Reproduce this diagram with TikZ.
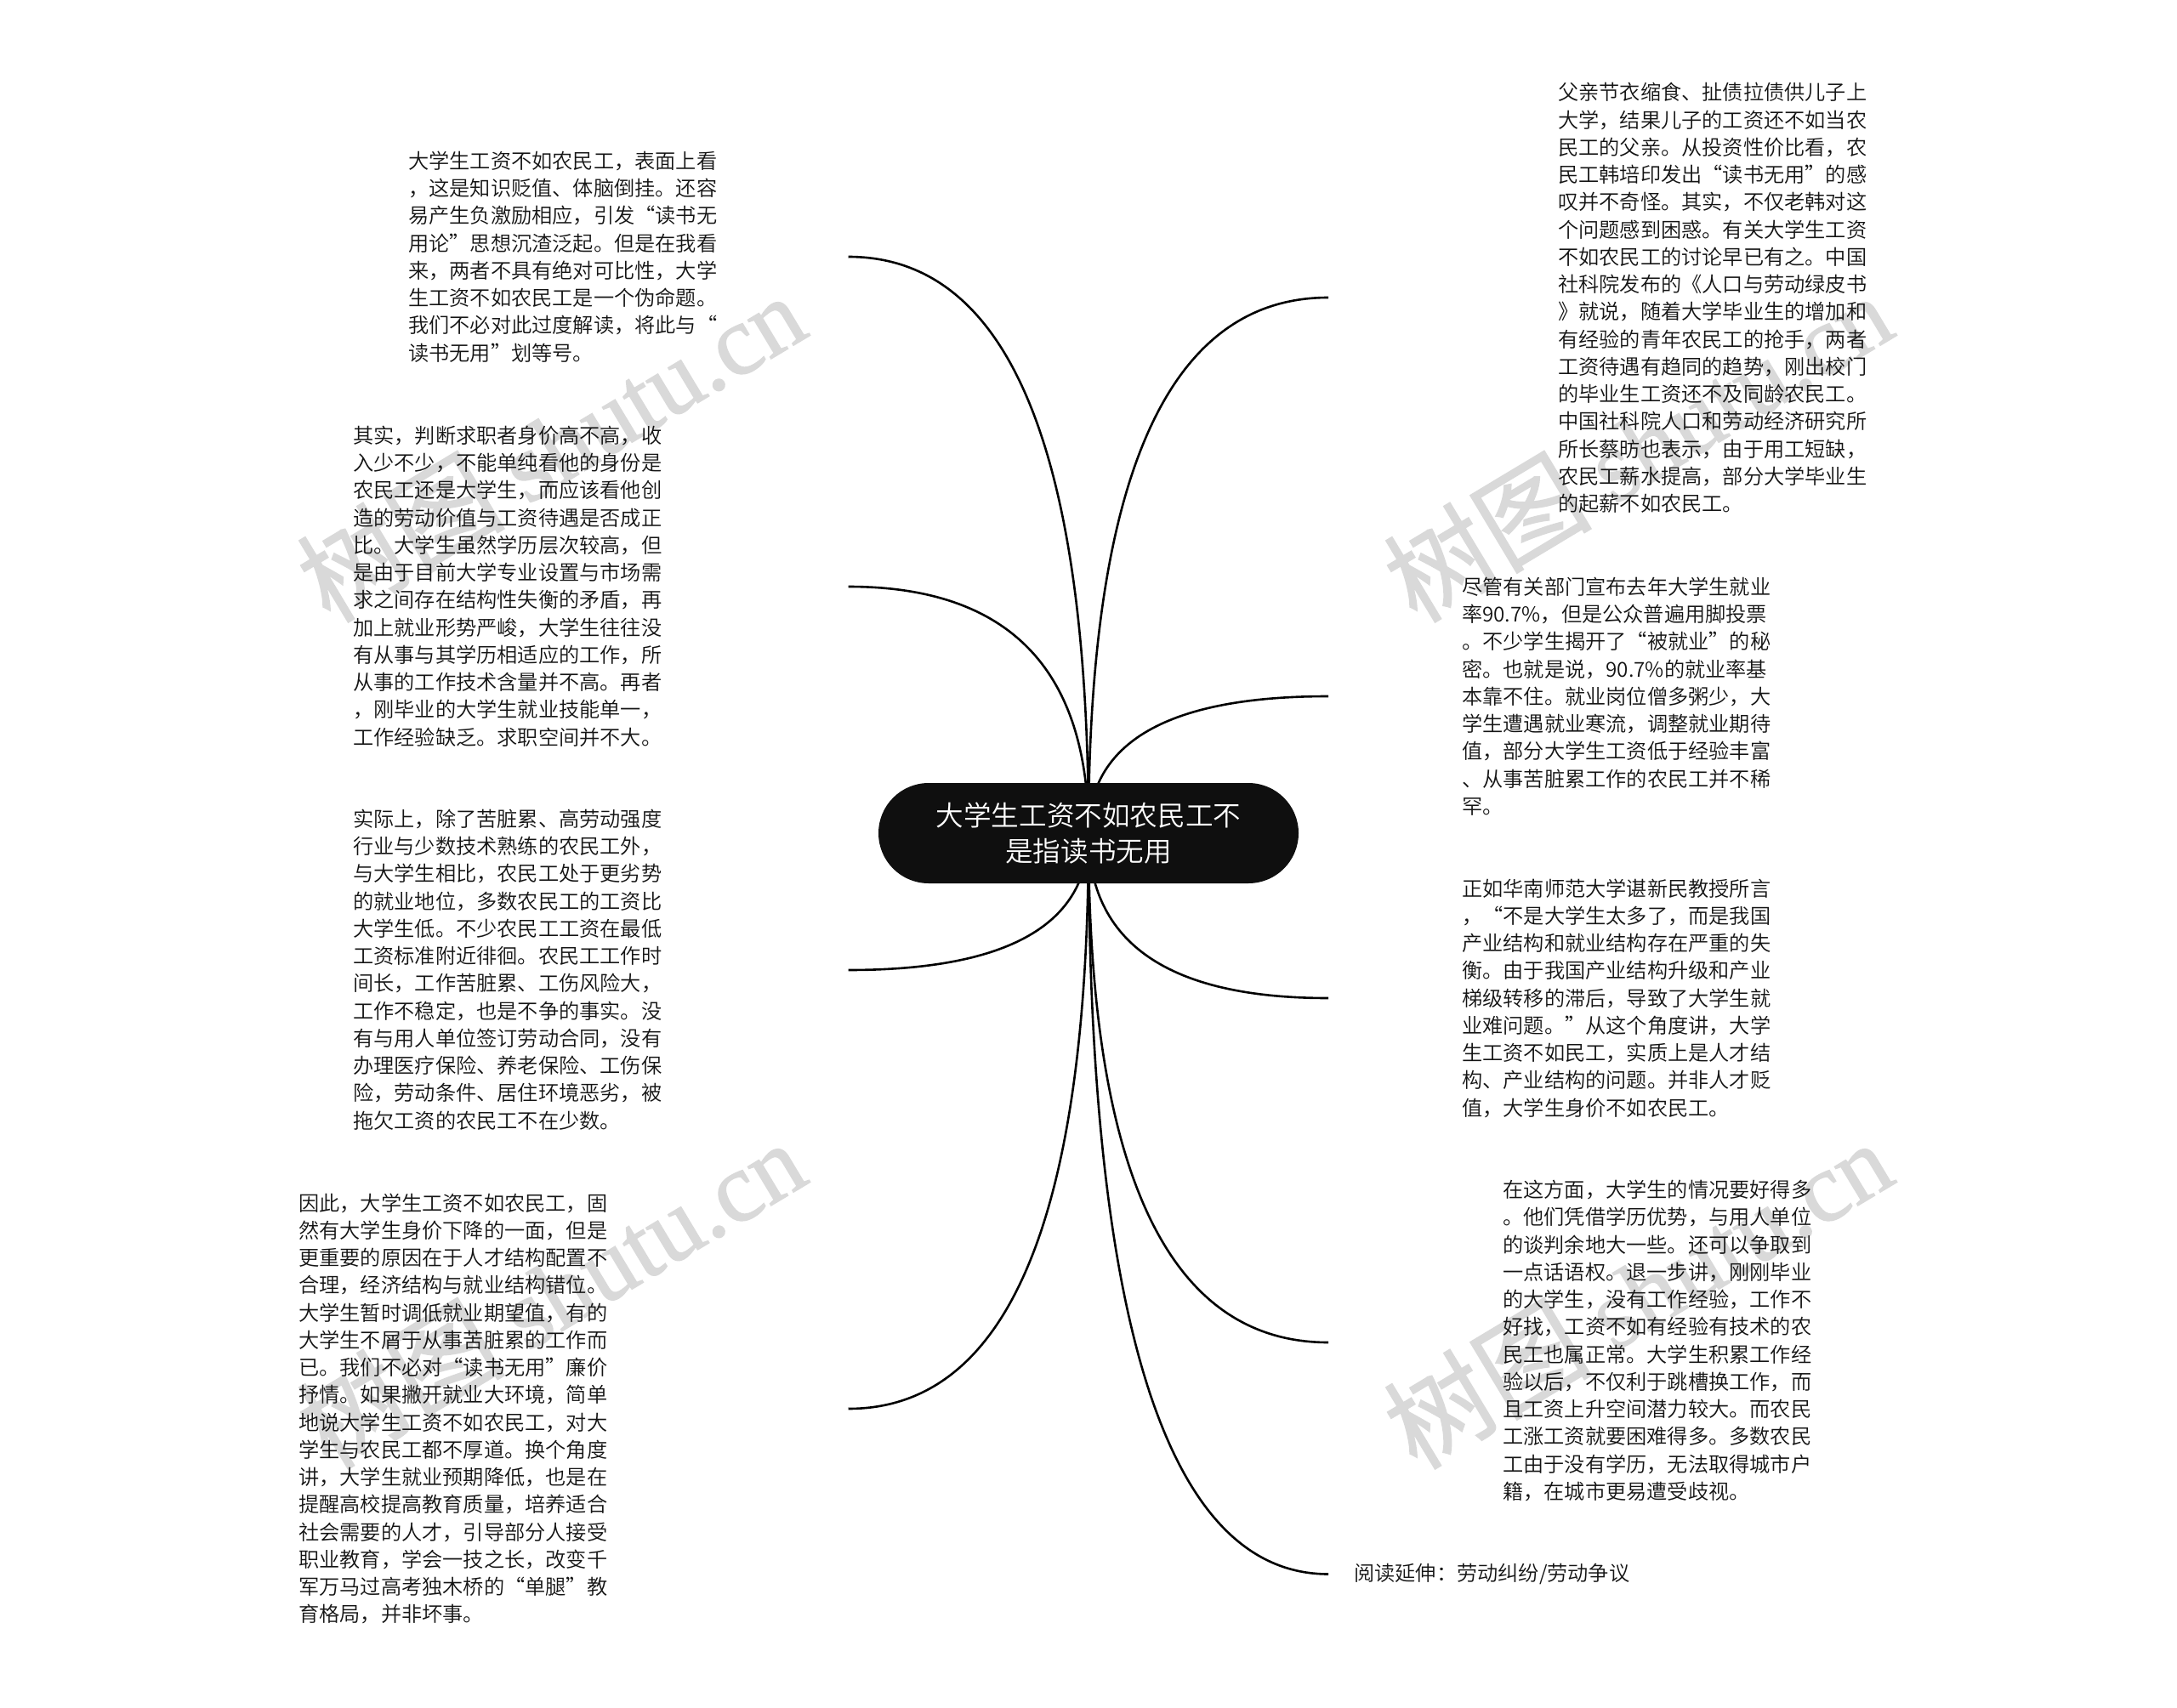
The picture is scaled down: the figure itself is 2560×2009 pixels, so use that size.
\documentclass[tikz,border=0pt]{standalone}
\usepackage{fontspec}
\usetikzlibrary{calc,backgrounds,shapes.misc}
\newfontfamily\cjk{Noto Sans CJK SC DemiLight}
\newfontfamily\wmcjk[FakeBold=1.2]{Noto Sans CJK SC}
\newfontfamily\wmserif[FakeBold=1.2]{Liberation Serif}
\definecolor{inkc}{HTML}{141414}
\definecolor{rootc}{HTML}{0F0F0F}
\definecolor{markc}{HTML}{D9D9D9}
\tikzset{
  para/.style={anchor=west,inner sep=0pt,align=left,text=inkc,font=\cjk\fontsize{24.2}{32.25}\selectfont},
  rootbox/.style={rounded rectangle,fill=rootc,text=white,minimum width=494pt,minimum height=118pt,inner sep=0pt,align=center,font=\cjk\fontsize{32.6}{42}\selectfont},
  link/.style={line width=2.6pt,black},
  wmark/.style={text=markc,rotate=31,inner sep=0pt,font=\wmcjk\fontsize{122}{122}\selectfont},
}
\newcommand{\linkto}[1]{\draw[link] (root.center) .. controls ($(root.center)!2/3!(root.center|-#1)$) and ($(#1)!2/3!(root.center|-#1)$) .. (#1);}
\newcommand{\wmtext}{树图 {\wmserif\fontsize{116}{116}\selectfont shutu.cn}}
\begin{document}
\begin{tikzpicture}[x=1pt,y=-1pt]
\useasboundingbox (0,0) rectangle (2560,2009);
\node[rootbox] (root) at (1280,980) {大学生工资不如农民工不\\是指读书无用};

\node[para] (l1) at (480,302) {大学生工资不如农民工，表面上看\\，这是知识贬值、体脑倒挂。还容\\易产生负激励相应，引发“读书无\\用论”思想沉渣泛起。但是在我看\\来，两者不具有绝对可比性，大学\\生工资不如农民工是一个伪命题。\\我们不必对此过度解读，将此与“\\读书无用”划等号。};
\node[para] (l2) at (415,689.5) {其实，判断求职者身价高不高，收\\入少不少，不能单纯看他的身份是\\农民工还是大学生，而应该看他创\\造的劳动价值与工资待遇是否成正\\比。大学生虽然学历层次较高，但\\是由于目前大学专业设置与市场需\\求之间存在结构性失衡的矛盾，再\\加上就业形势严峻，大学生往往没\\有从事与其学历相适应的工作，所\\从事的工作技术含量并不高。再者\\，刚毕业的大学生就业技能单一，\\工作经验缺乏。求职空间并不大。};
\node[para] (l3) at (415,1140.5) {实际上，除了苦脏累、高劳动强度\\行业与少数技术熟练的农民工外，\\与大学生相比，农民工处于更劣势\\的就业地位，多数农民工的工资比\\大学生低。不少农民工工资在最低\\工资标准附近徘徊。农民工工作时\\间长，工作苦脏累、工伤风险大，\\工作不稳定，也是不争的事实。没\\有与用人单位签订劳动合同，没有\\办理医疗保险、养老保险、工伤保\\险，劳动条件、居住环境恶劣，被\\拖欠工资的农民工不在少数。};
\node[para] (l4) at (351,1657) {因此，大学生工资不如农民工，固\\然有大学生身价下降的一面，但是\\更重要的原因在于人才结构配置不\\合理，经济结构与就业结构错位。\\大学生暂时调低就业期望值，有的\\大学生不屑于从事苦脏累的工作而\\已。我们不必对“读书无用”廉价\\抒情。如果撇开就业大环境，简单\\地说大学生工资不如农民工，对大\\学生与农民工都不厚道。换个角度\\讲，大学生就业预期降低，也是在\\提醒高校提高教育质量，培养适合\\社会需要的人才，引导部分人接受\\职业教育，学会一技之长，改变千\\军万马过高考独木桥的“单腿”教\\育格局，并非坏事。};

\node[para] (r1) at (1832,350.5) {父亲节衣缩食、扯债拉债供儿子上\\大学，结果儿子的工资还不如当农\\民工的父亲。从投资性价比看，农\\民工韩培印发出“读书无用”的感\\叹并不奇怪。其实，不仅老韩对这\\个问题感到困惑。有关大学生工资\\不如农民工的讨论早已有之。中国\\社科院发布的《人口与劳动绿皮书\\》就说，随着大学毕业生的增加和\\有经验的青年农民工的抢手，两者\\工资待遇有趋同的趋势，刚出校门\\的毕业生工资还不及同龄农民工。\\中国社科院人口和劳动经济研究所\\所长蔡昉也表示，由于用工短缺，\\农民工薪水提高，部分大学毕业生\\的起薪不如农民工。};
\node[para] (r2) at (1719,819) {尽管有关部门宣布去年大学生就业\\率90.7\%，但是公众普遍用脚投票\\。不少学生揭开了“被就业”的秘\\密。也就是说，90.7\%的就业率基\\本靠不住。就业岗位僧多粥少，大\\学生遭遇就业寒流，调整就业期待\\值，部分大学生工资低于经验丰富\\、从事苦脏累工作的农民工并不稀\\罕。};
\node[para] (r3) at (1719,1174) {正如华南师范大学谌新民教授所言\\，“不是大学生太多了，而是我国\\产业结构和就业结构存在严重的失\\衡。由于我国产业结构升级和产业\\梯级转移的滞后，导致了大学生就\\业难问题。”从这个角度讲，大学\\生工资不如民工，实质上是人才结\\构、产业结构的问题。并非人才贬\\值，大学生身价不如农民工。};
\node[para] (r4) at (1767,1577) {在这方面，大学生的情况要好得多\\。他们凭借学历优势，与用人单位\\的谈判余地大一些。还可以争取到\\一点话语权。退一步讲，刚刚毕业\\的大学生，没有工作经验，工作不\\好找，工资不如有经验有技术的农\\民工也属正常。大学生积累工作经\\验以后，不仅利于跳槽换工作，而\\且工资上升空间潜力较大。而农民\\工涨工资就要困难得多。多数农民\\工由于没有学历，无法取得城市户\\籍，在城市更易遭受歧视。};
\node[para] (r5) at (1592,1851.5) {阅读延伸：劳动纠纷/劳动争议};

\coordinate (el1) at (997.5,302);
\coordinate (el2) at (997.5,690);
\coordinate (el3) at (997.5,1141);
\coordinate (el4) at (997.5,1657);
\coordinate (er1) at (1562,350);
\coordinate (er2) at (1562,819);
\coordinate (er3) at (1562,1174);
\coordinate (er4) at (1562,1579);
\coordinate (er5) at (1562,1851.5);

\begin{scope}[on background layer]
\node[wmark] (w1) at (647,524) {\wmtext};
\node[wmark] (w2) at (647,1520) {\wmtext};
\node[wmark] (w3) at (1925,524) {\wmtext};
\node[wmark] (w4) at (1925,1520) {\wmtext};
\linkto{el1}\linkto{el2}\linkto{el3}\linkto{el4}
\linkto{er1}\linkto{er2}\linkto{er3}\linkto{er4}\linkto{er5}
\end{scope}
\end{tikzpicture}
\end{document}
